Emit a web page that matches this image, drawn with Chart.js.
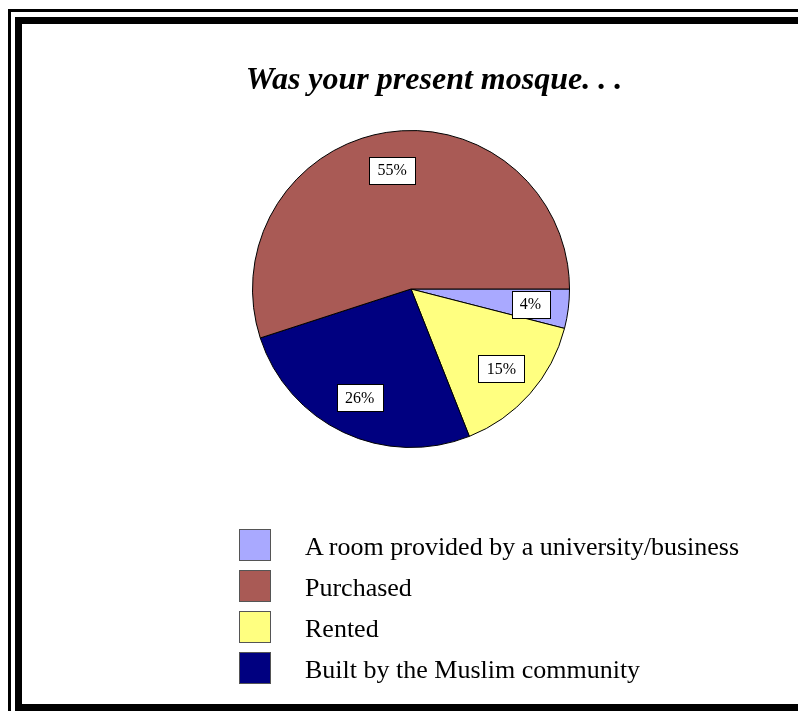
<!DOCTYPE html>
<html>
<head>
<meta charset="utf-8">
<script src="https://cdn.jsdelivr.net/npm/chart.js@4.4.1/dist/chart.umd.min.js"></script>
<style>
  html, body { margin: 0; padding: 0; background: #fff; }
  body { width: 798px; height: 711px; position: relative; overflow: hidden; font-family: "Liberation Serif", "Times New Roman", serif; }
  #frameOuter { position: absolute; left: 8px; top: 9px; width: 820px; height: 720px; border: 3px solid #000; box-sizing: border-box; }
  #frameInner { position: absolute; left: 15px; top: 17px; width: 810px; height: 694px; border: 7px solid #000; box-sizing: border-box; }
  #chart { position: absolute; left: 0; top: 0; }
  #title { position: absolute; left: 0; width: 868px; top: 59px; text-align: center; font: italic bold 32px "Liberation Serif", serif; line-height: 38px; color: #000; }
  #legend { position: absolute; left: 239px; top: 529px; }
  .item { position: relative; height: 41px; }
  .swatch { position: absolute; left: 0; top: 0; width: 32px; height: 32px; box-sizing: border-box; border: 1px solid #555; }
  .text { position: absolute; left: 66px; top: 3px; font-size: 26px; line-height: 30px; white-space: nowrap; color: #000; }
</style>
</head>
<body>
<div id="frameOuter"></div>
<div id="frameInner"></div>
<canvas id="chart" width="798" height="711"></canvas>
<div id="title">Was your present mosque. . .</div>
<div id="legend"></div>
<script>
const labels = [
    'A room provided by a university/business',
    'Purchased',
    'Rented',
    'Built by the Muslim community'
];
// slices run clockwise from 3 o'clock: room, rented, built, purchased
const sliceOrder = [0, 2, 3, 1];
const percents = [4, 55, 15, 26];
const colors = ['#A9A9FF', '#A95A55', '#FFFF80', '#000080'];

// boxed percentage labels inside each slice
const sliceLabels = {
    id: 'sliceLabels',
    afterDatasetsDraw(chart) {
        const ctx = chart.ctx;
        const meta = chart.getDatasetMeta(0);
        ctx.save();
        ctx.font = '16px "Liberation Serif", serif';
        ctx.textAlign = 'center';
        ctx.textBaseline = 'middle';
        meta.data.forEach((arc, i) => {
            const p = arc.getProps(['x', 'y', 'startAngle', 'endAngle', 'outerRadius'], true);
            const mid = (p.startAngle + p.endAngle) / 2;
            const r = p.outerRadius * 0.76;
            const x = p.x + Math.cos(mid) * r;
            const y = p.y + Math.sin(mid) * r;
            const text = chart.data.datasets[0].data[i] + '%';
            const w = Math.round(ctx.measureText(text).width + 17);
            const h = 27;
            const bx = Math.round(x - w / 2) + 0.5;
            const by = Math.round(y - h / 2) + 0.5;
            ctx.fillStyle = '#fff';
            ctx.fillRect(bx, by, w, h);
            ctx.strokeStyle = '#000';
            ctx.lineWidth = 1;
            ctx.strokeRect(bx, by, w, h);
            ctx.fillStyle = '#000';
            ctx.fillText(text, x, y + 1);
        });
        ctx.restore();
    }
};

new Chart(document.getElementById('chart'), {
    type: 'pie',
    data: {
        labels: sliceOrder.map(i => labels[i]),
        datasets: [{
            data: sliceOrder.map(i => percents[i]),
            backgroundColor: sliceOrder.map(i => colors[i]),
            borderColor: '#000',
            borderWidth: 1
        }]
    },
    options: {
        responsive: false,
        animation: false,
        rotation: 90,
        layout: { padding: { left: 252, right: 228, top: 130, bottom: 263 } },
        plugins: {
            legend: { display: false },
            tooltip: { enabled: false }
        }
    },
    plugins: [sliceLabels]
});

// legend in the original category order
const legend = document.getElementById('legend');
labels.forEach((name, i) => {
    const item = document.createElement('div');
    item.className = 'item';
    item.innerHTML = '<div class="swatch" style="background:' + colors[i] + '"></div><div class="text"></div>';
    item.querySelector('.text').textContent = name;
    legend.appendChild(item);
});
</script>
</body>
</html>
